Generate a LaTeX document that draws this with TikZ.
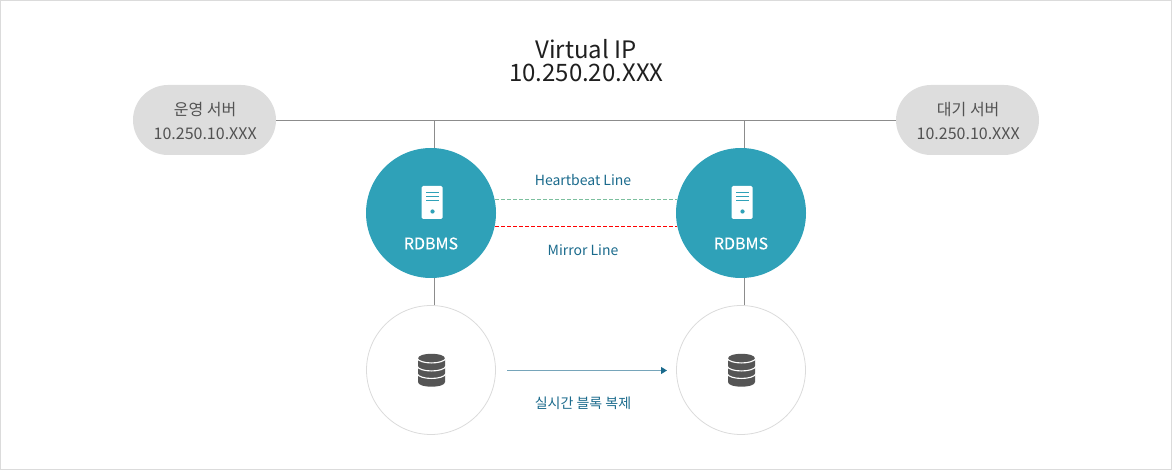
\documentclass[tikz,border=0pt]{standalone}
\usepackage{fontspec}
\setmainfont{Noto Sans CJK KR}
\usetikzlibrary{arrows.meta}
\definecolor{teal1}{HTML}{2FA1B8}
\definecolor{pillgray}{HTML}{DDDDDD}
\definecolor{linegray}{HTML}{8C8C8C}
\definecolor{labelblue}{HTML}{1A6A8C}
\definecolor{iconstone}{HTML}{555555}
\definecolor{greendash}{HTML}{7CBF9E}
\newfontfamily\boldishfont[FakeBold=0.25]{Noto Sans CJK KR}
\tikzset{
  pill/.style={draw=none,fill=pillgray,rounded corners=35pt,minimum width=143pt,minimum height=70pt,inner sep=0pt},
  pilltext/.style={inner sep=0pt,align=center,text=black!68,font=\fontsize{16}{24}\selectfont},
  dbcircle/.style={circle,draw=black!14,line width=.8pt,fill=white,minimum size=129pt,inner sep=0pt},
  rdbms/.style={circle,fill=teal1,minimum size=130pt,inner sep=0pt},
  rdbmstext/.style={text=white,inner sep=0pt,font=\boldishfont\fontsize{16}{18}\selectfont},
  linelabel/.style={text=labelblue,inner sep=0pt,font=\fontsize{14}{17}\selectfont},
  conn/.style={draw=linegray,line width=.9pt},
  titletext/.style={inner sep=0pt,text=black!88,font=\fontsize{24}{24}\selectfont},
}
\newcommand{\servericon}[2]{%
  \fill[white,rounded corners=1.5pt] (#1-9.3,#2-27) rectangle (#1+11.7,#2+6);
  \draw[teal1,line width=.9pt] (#1-5,#2-20.5) -- (#1+8,#2-20.5) (#1-5,#2-16.5) -- (#1+8,#2-16.5) (#1-5,#2-12.5) -- (#1+8,#2-12.5);
  \fill[teal1] (#1+1.5,#2-1.5) circle (2.1);
}
\newcommand{\dbicon}[2]{%
  \fill[iconstone] (#1-13,#2-11.5) .. controls (#1-13,#2-17.8) and (#1+14,#2-17.8) .. (#1+14,#2-11.5)
     -- (#1+14,#2+12) .. controls (#1+14,#2+18.3) and (#1-13,#2+18.3) .. (#1-13,#2+12) -- cycle;
  \foreach \dy in {-12,-4,3.5}{
    \draw[white,line width=1.1pt] (#1-14,#2+\dy) .. controls (#1-12,#2+\dy+6.6) and (#1+13,#2+\dy+6.6) .. (#1+15,#2+\dy);
  }
}
\begin{document}
\begin{tikzpicture}[x=1pt,y=-1pt]
\useasboundingbox (0,0) rectangle (1172,470);
\draw[black!14,line width=1pt] (0.5,0.5) rectangle (1171.5,469.5);
\node[pill] (opserver) at (204.5,120) {};
\node[pill] (stserver) at (967.5,120) {};
\node[pilltext] (optext) at (205.2,120.7) {운영 서버\\10.250.10.XXX};
\node[pilltext] (sttext) at (968.2,120.7) {대기 서버\\10.250.10.XXX};
\node[rdbms] (dbA) at (431,213) {};
\node[rdbms] (dbB) at (741,213) {};
\node[dbcircle] (stA) at (431,370) {};
\node[dbcircle] (stB) at (741,370) {};
\node[titletext] (vip) at (586,49) {Virtual IP};
\node[titletext] (vipaddr) at (586.3,73) {10.250.20.XXX};
\node[rdbmstext] (rdbmsA) at (431,243.5) {RDBMS};
\node[rdbmstext] (rdbmsB) at (741,243.5) {RDBMS};
\node[linelabel] (hb) at (583,180) {Heartbeat Line};
\node[linelabel] (mi) at (583,250) {Mirror Line};
\node[linelabel] (rep) at (583,403) {실시간 블록 복제};
\coordinate (busA) at (434.5,120.5);
\coordinate (busB) at (744.5,120.5);
\coordinate (hbA) at (495,199.5);
\coordinate (hbB) at (677,199.5);
\coordinate (miA) at (495,226.5);
\coordinate (miB) at (677,226.5);
\coordinate (arrowS) at (507,370.5);
\coordinate (arrowE) at (667,370.5);
\draw[conn] (opserver.east |- busA) -- (stserver.west |- busA);
\draw[conn] (busA) -- ([xshift=3.5pt]dbA.north);
\draw[conn] (busB) -- ([xshift=3.5pt]dbB.north);
\draw[conn] ([xshift=3.5pt]dbA.south) -- ([xshift=3.5pt]stA.north);
\draw[conn] ([xshift=3.5pt]dbB.south) -- ([xshift=3.5pt]stB.north);
\draw[greendash,line width=1pt,dash pattern=on 4pt off 2pt] (hbA) -- (hbB);
\draw[red,line width=1pt,dash pattern=on 4pt off 2pt] (miA) -- (miB);
\draw[labelblue!60,line width=1pt,-{Triangle[length=6pt,width=7pt,color=labelblue]}] (arrowS) -- (arrowE);
\servericon{431}{213}
\servericon{741}{213}
\dbicon{431}{370}
\dbicon{741}{370}
\end{tikzpicture}
\end{document}
